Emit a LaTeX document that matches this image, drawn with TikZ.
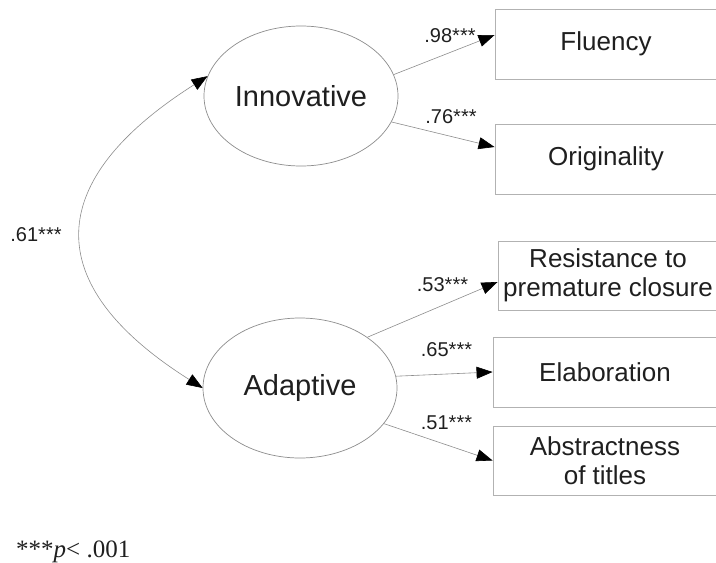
\documentclass[tikz,border=0pt]{standalone}
\usepackage{fontspec}
\setmainfont{Liberation Sans}
\newfontfamily\serifnote{Liberation Serif}
\usetikzlibrary{shapes.geometric,arrows.meta}
\begin{document}
\begin{tikzpicture}[x=1pt,y=-1pt,
  latent/.style={ellipse,draw=black!45,line width=0.7pt,minimum width=194pt,minimum height=140pt,inner sep=0pt,font=\fontsize{29}{34}\selectfont,text=black!88},
  obs/.style={rectangle,draw=black!30,line width=0.9pt,inner sep=0pt,align=center,font=\fontsize{26}{29}\selectfont,text=black!88},
  pathline/.style={draw=black!45,line width=0.6pt},
  load/.style={pathline,-{Triangle[length=16pt,width=12pt,black]}},
  coef/.style={font=\fontsize{20}{23}\selectfont,text=black!88,anchor=base,inner sep=0pt}]
\useasboundingbox (0,0) rectangle (716,563);
\clip (0,0) rectangle (716,563);
% latent factors
\node[latent] (inn) at (301,96) {Innovative};
\node[latent] (adp) at (300,388) {Adaptive};
% indicators
\node[obs,minimum width=222pt,minimum height=70pt] (flu) at (606,44) {Fluency};
\node[obs,minimum width=222pt,minimum height=70pt] (ori) at (606,159) {Originality};
\node[obs,minimum width=220pt,minimum height=69pt] (res) at (608,275.5) {Resistance to\\premature closure};
\node[obs,minimum width=224pt,minimum height=70pt] (ela) at (605,372) {Elaboration};
\node[obs,minimum width=224pt,minimum height=69pt] (abs) at (605,460.5) {Abstractness\\of titles};
% loadings
\draw[load] (inn.13) -- ([yshift=9pt]flu.west);
\draw[load] (inn.-16) -- ([yshift=12pt]ori.west);
\draw[load] (adp.37) -- ([yshift=-6.5pt]res.west);
\draw[load] (adp.7) -- (ela.west);
\draw[load] (adp.-23) -- (abs.west);
% correlation
\draw[pathline,{Triangle[length=16pt,width=12pt,black]}-{Triangle[length=16pt,width=12pt,black]}] (adp.west) .. controls (38,284) and (44,180) .. (inn.168);
% coefficients
\node[coef] (c1) at (450,42) {.98***};
\node[coef] (c2) at (451,123) {.76***};
\node[coef] (c3) at (442.5,291) {.53***};
\node[coef] (c4) at (446.5,356) {.65***};
\node[coef] (c5) at (446.5,429) {.51***};
\node[coef] (c6) at (36,241) {.61***};
% note
\node[anchor=base west,inner sep=0pt,text=black!88,font=\serifnote\fontsize{25}{28}\selectfont] (note) at (16,557) {***\textit{p}< .001};
\end{tikzpicture}
\end{document}
